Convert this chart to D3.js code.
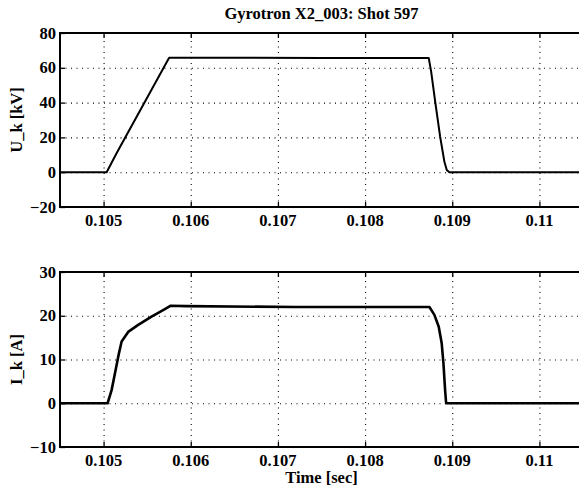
<!DOCTYPE html>
<html>
<head>
<meta charset="utf-8">
<script src="https://cdn.jsdelivr.net/npm/d3@7"></script>
<style>
  body { margin: 0; background: #fff; }
  text { font-family: "Liberation Serif", "Times New Roman", serif; font-weight: bold; fill: #000; }
  .grid line { stroke: #000; stroke-width: 1.1; stroke-dasharray: 1,4.5; }
  .grid path { display: none; }
  .ax path { display: none; }
  .ax line { stroke: #000; stroke-width: 1.3; }
</style>
</head>
<body>
<svg id="chart"></svg>
<script>
const width = 579;
const height = 488;

// data
const timeU = [0.1045, 0.105035, 0.105149, 0.105752, 0.1075, 0.10873, 0.108758, 0.108807, 0.108861, 0.10891, 0.108937, 0.108967, 0.1105];
const valuesU = [0, 0, 10.9, 65.8, 65.7, 65.7, 57.8, 39.6, 20.4, 6.0, 1.3, 0, 0];

const timeI = [0.1045, 0.105046, 0.105092, 0.105138, 0.105176, 0.105207, 0.105282, 0.105397, 0.10555, 0.105703, 0.105771, 0.10595, 0.1072, 0.108738, 0.108795, 0.108845, 0.108879, 0.108899, 0.108918, 0.10893, 0.1105];
const valuesI = [0, 0, 3.0, 7.6, 11.4, 14.1, 16.3, 17.9, 19.8, 21.5, 22.3, 22.2, 22.0, 22.0, 20.2, 17.5, 13.7, 9.1, 3.0, 0, 0];

const xTicks = [0.105, 0.106, 0.107, 0.108, 0.109, 0.110];
const yTicksU = [-20, 0, 20, 40, 60, 80];
const yTicksI = [-10, 0, 10, 20, 30];

const svg = d3.select('#chart').attr('width', width).attr('height', height);

const left = 60, right = 583;
const fs = 16.5;
const x = d3.scaleLinear().domain([0.1045, 0.1105]).range([left, right]);
const fmtX = d => String(+d.toFixed(3));
const fmtY = d3.format('d');

const panels = [
    {top: 33, bottom: 207, domain: [-20, 80], ticks: yTicksU, label: 'U_k [kV]', t: timeU, v: valuesU, sw: 2},
    {top: 272, bottom: 447, domain: [-10, 30], ticks: yTicksI, label: 'I_k [A]', t: timeI, v: valuesI, sw: 2.6}
];

panels.forEach((p, i) => {
    const y = d3.scaleLinear().domain(p.domain).range([p.bottom, p.top]);
    const h = p.bottom - p.top;
    const g = svg.append('g');

    // grid
    g.append('g').attr('class', 'grid')
        .attr('transform', `translate(0, ${p.bottom})`)
        .call(d3.axisBottom(x).tickValues(xTicks).tickSize(-h).tickFormat(''));
    g.append('g').attr('class', 'grid')
        .attr('transform', `translate(${left}, 0)`)
        .call(d3.axisLeft(y).tickValues(p.ticks).tickSize(-(right - left)).tickFormat(''));

    // inward ticks
    g.append('g').attr('class', 'ax')
        .attr('transform', `translate(0, ${p.bottom})`)
        .call(d3.axisBottom(x).tickValues(xTicks).tickSize(-5).tickFormat(''));
    g.append('g').attr('class', 'ax')
        .attr('transform', `translate(0, ${p.top})`)
        .call(d3.axisTop(x).tickValues(xTicks).tickSize(-5).tickFormat(''));
    g.append('g').attr('class', 'ax')
        .attr('transform', `translate(${left}, 0)`)
        .call(d3.axisLeft(y).tickValues(p.ticks).tickSize(-5).tickFormat(''));

    // tick labels
    g.selectAll('.xl').data(xTicks).enter().append('text')
        .attr('x', d => x(d))
        .attr('y', p.bottom + 19)
        .attr('text-anchor', 'middle')
        .attr('font-size', fs)
        .text(fmtX);
    g.selectAll('.yl').data(p.ticks).enter().append('text')
        .attr('x', left - 4)
        .attr('y', d => y(d))
        .attr('dy', '0.34em')
        .attr('text-anchor', 'end')
        .attr('font-size', fs)
        .text(fmtY);

    // frame
    g.append('line').attr('x1', left).attr('x2', right).attr('y1', p.top).attr('y2', p.top)
        .attr('stroke', '#000').attr('stroke-width', 2);
    g.append('line').attr('x1', left).attr('x2', right).attr('y1', p.bottom).attr('y2', p.bottom)
        .attr('stroke', '#000').attr('stroke-width', 2);
    g.append('line').attr('x1', left).attr('x2', left).attr('y1', p.top - 1).attr('y2', p.bottom + 1)
        .attr('stroke', '#000').attr('stroke-width', 2);

    // series
    svg.append('clipPath').attr('id', 'clip' + i)
        .append('rect').attr('x', left).attr('y', p.top).attr('width', right - left).attr('height', h);
    const pts = p.t.map((t, k) => [t, p.v[k]]);
    g.append('path')
        .datum(pts)
        .attr('clip-path', `url(#clip${i})`)
        .attr('fill', 'none')
        .attr('stroke', '#000')
        .attr('stroke-width', p.sw)
        .attr('stroke-linejoin', 'round')
        .attr('d', d3.line().x(d => x(d[0])).y(d => y(d[1])));

    // y label
    g.append('text')
        .attr('transform', `translate(22, ${(p.top + p.bottom) / 2}) rotate(-90)`)
        .attr('text-anchor', 'middle')
        .attr('font-size', fs)
        .text(p.label);
});

svg.append('text')
    .attr('x', (left + right) / 2)
    .attr('y', 19)
    .attr('text-anchor', 'middle')
    .attr('font-size', fs)
    .text('Gyrotron X2_003: Shot 597');

svg.append('text')
    .attr('x', (left + right) / 2)
    .attr('y', 483)
    .attr('text-anchor', 'middle')
    .attr('font-size', fs)
    .text('Time [sec]');
</script>
</body>
</html>
